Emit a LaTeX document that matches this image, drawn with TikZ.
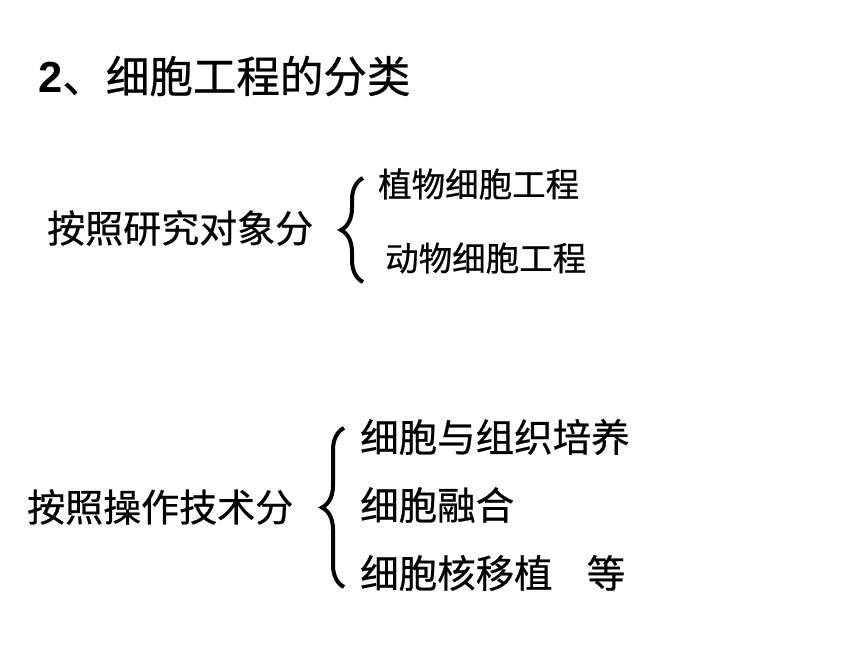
\documentclass[tikz,border=0pt]{standalone}
\usepackage{fontspec}
\setmainfont{Liberation Sans}
\newfontfamily\cjk[FakeBold=0.6]{Noto Sans CJK SC}
\usetikzlibrary{decorations.pathreplacing}

\begin{document}
\begin{tikzpicture}[x=1pt, y=-1pt,
    every node/.style={inner sep=0pt, anchor=west, font=\cjk},
    lbl/.style={font=\cjk\fontsize{38}{43}\selectfont},
    itemsmall/.style={font=\cjk\fontsize{33.5}{38}\selectfont},
    itembig/.style={font=\cjk\fontsize{38.5}{43}\selectfont},
    curly/.style={decorate, decoration={brace, amplitude=22pt}, line width=4pt}]
            \useasboundingbox (0,0) rectangle (860,645);
            % title
            \node (title) at (38,76) {\fontsize{43.5}{48}\selectfont{\normalfont\bfseries 2}、细胞工程的分类};

            % by object
            \node[lbl] (byobj) at (47,228) {按照研究对象分};
            \node[itemsmall] (plant) at (378,184) {植物细胞工程};
            \node[itemsmall] (animal) at (385,258) {动物细胞工程};
            \coordinate (objtop) at (363,178);
            \coordinate (objbot) at (363,282);
            \draw[curly] (objbot) -- (objtop);

            % by technique
            \node[lbl] (bytech) at (27,507) {按照操作技术分};
            \node[itembig] (culture) at (360,437) {细胞与组织培养};
            \node[itembig] (fusion) at (360,505) {细胞融合};
            \node[itembig] (transfer) at (360,573) {细胞核移植\hspace{34pt}等};
            \coordinate (techtop) at (344,428);
            \coordinate (techbot) at (344,587);
            \draw[curly] (techbot) -- (techtop);
        \end{tikzpicture}
\end{document}
